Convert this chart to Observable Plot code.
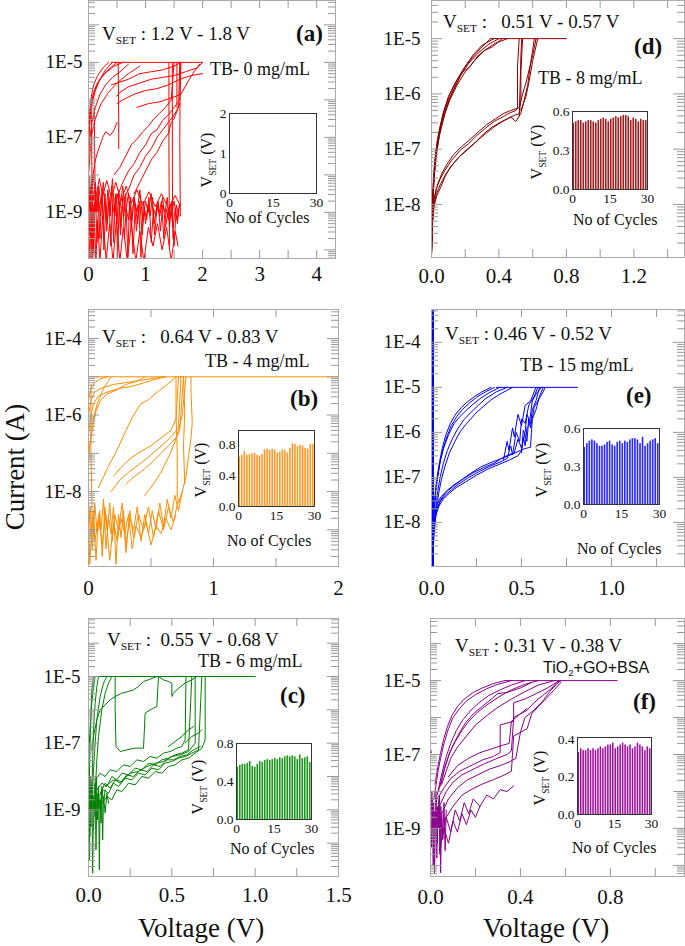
<!DOCTYPE html>
<html><head><meta charset="utf-8">
<script src="https://cdn.jsdelivr.net/npm/d3@7"></script>
<script src="https://cdn.jsdelivr.net/npm/@observablehq/plot@0.6"></script>
<style>
body{margin:0;background:#fff;}
#fig{position:relative;width:685px;height:946px;overflow:hidden;background:#fff;font-family:"Liberation Serif","Times New Roman",serif;color:#000;}
#fig svg{position:absolute;}
#fig svg text{font-family:"Liberation Serif","Times New Roman",serif !important;}
.t{position:absolute;white-space:nowrap;line-height:1;color:#111;}
.t sub{font-size:0.6em;vertical-align:baseline;position:relative;top:0.38em;}
</style></head><body><div id="fig"></div><script>
// ---------- DATA (V, log10 of current in A) ----------
const curvesA = [
 [0.40,-5, 2.0,-5],
 [0.60,-5, 0.45,-5.10, 0.32,-5.25, 0.22,-5.40, 0.14,-5.60, 0.08,-5.85, 0.04,-6.20, 0.01,-6.70, 0,-7.0],
 [0.50,-5, 0.38,-5.15, 0.28,-5.30, 0.18,-5.50, 0.10,-5.80, 0.05,-6.10, 0.02,-6.50, 0,-6.9],
 [0.42,-5, 0.30,-5.20, 0.20,-5.45, 0.12,-5.75, 0.07,-6.05, 0.03,-6.45, 0.01,-7.0, 0,-7.2],
 [0.70,-5.05, 0.55,-5.25, 0.42,-5.40, 0.30,-5.60, 0.20,-5.85, 0.12,-6.20, 0.06,-6.60, 0.02,-7.1, 0,-7.6],
 [0.90,-5.1, 0.70,-5.3, 0.50,-5.55, 0.35,-5.8, 0.22,-6.1, 0.12,-6.5, 0.06,-6.9, 0.03,-7.4, 0,-8.0],
 [0.35,-5.0, 0.25,-5.15, 0.16,-5.35, 0.09,-5.6, 0.05,-5.9, 0.02,-6.3, 0,-6.6],
 [0.50,-6.6, 0.45,-6.8, 0.38,-6.95, 0.30,-6.85, 0.25,-7.0, 0.18,-7.3, 0.12,-7.6, 0.08,-8.0, 0.05,-8.3],
 [2.0,-5.0, 1.9,-5.15, 1.7,-5.25, 1.5,-5.35, 1.3,-5.4, 1.1,-5.45, 0.9,-5.55, 0.7,-5.65, 0.55,-5.8, 0.5,-5.9],
 [2.0,-5.3, 1.8,-5.35, 1.6,-5.45, 1.4,-5.6, 1.2,-5.7, 1.0,-5.75, 0.8,-5.85, 0.6,-6.0, 0.5,-6.1],
 [1.62,-5.0, 1.5,-5.1, 1.3,-5.2, 1.1,-5.25, 0.9,-5.3, 0.7,-5.45, 0.5,-5.55, 0.4,-5.6],
 [1.95,-5.05, 1.85,-5.25, 1.75,-5.5, 1.62,-5.85, 1.45,-5.95, 1.25,-6.05, 1.05,-6.1, 0.85,-6.2],
 [0.50,-8.6, 0.60,-8.2, 0.70,-7.9, 0.80,-7.7, 0.90,-7.4, 1.00,-7.2, 1.10,-6.9, 1.20,-6.8, 1.30,-6.55, 1.40,-6.4, 1.50,-6.2, 1.60,-6.0, 1.62,-5.0],
 [0.60,-8.7, 0.70,-8.4, 0.80,-8.0, 0.90,-7.8, 1.00,-7.5, 1.10,-7.3, 1.20,-7.0, 1.30,-6.8, 1.40,-6.6, 1.50,-6.4, 1.58,-6.2, 1.60,-5.0],
 [0.45,-8.0, 0.55,-7.8, 0.65,-7.5, 0.75,-7.2, 0.85,-7.05, 0.95,-6.85, 1.05,-6.7, 1.15,-6.5, 1.25,-6.35, 1.35,-6.2, 1.45,-6.0, 1.50,-5.0],
 [0.80,-8.5, 0.90,-8.2, 1.00,-7.9, 1.10,-7.6, 1.20,-7.4, 1.30,-7.1, 1.40,-6.9, 1.45,-6.6, 1.50,-6.5, 1.55,-6.3, 1.60,-6.1],
 [0.52,-5.0, 0.53,-6.5, 0.53,-7.3],
 [1.41,-5.0, 1.41,-7.5, 1.42,-9.9],
 [1.47,-5.0, 1.47,-8.0, 1.48,-9.7],
 [1.61,-5.0, 1.60,-7.0, 1.61,-9.1],
 [1.55,-5.0, 1.55,-6.2],
 [0.0,-6.7, 0.0,-10.2],
 [0.05,-6.3, 0.06,-8.0, 0.07,-9.5],
 [0.10,-6.2, 0.11,-7.6, 0.12,-9.0],
 [0,-8.4, 0.02,-9.6, 0.04,-8.6, 0.06,-10.2, 0.08,-8.8, 0.10,-9.2, 0.12,-8.5, 0.15,-9.8, 0.18,-8.7, 0.21,-9.1, 0.24,-8.4, 0.27,-10.0, 0.30,-8.9, 0.33,-9.3, 0.36,-8.6, 0.39,-9.9, 0.42,-8.8, 0.45,-9.0, 0.48,-8.5, 0.51,-10.2, 0.54,-8.7, 0.57,-9.4, 0.60,-8.6, 0.63,-9.7, 0.66,-8.9, 0.70,-9.2, 0.74,-8.6, 0.78,-10.1, 0.82,-8.8, 0.86,-9.3, 0.90,-8.7, 0.94,-9.6, 0.98,-8.9, 1.02,-9.2, 1.06,-8.6, 1.10,-9.8, 1.14,-8.9, 1.18,-9.1, 1.22,-8.7, 1.26,-9.5, 1.30,-8.8, 1.34,-9.0, 1.38,-8.6, 1.42,-9.4, 1.46,-8.7, 1.50,-9.9, 1.54,-8.8, 1.58,-9.1],
 [0.01,-9.0, 0.03,-8.3, 0.05,-9.4, 0.07,-8.5, 0.09,-10.1, 0.11,-8.7, 0.14,-9.0, 0.17,-8.4, 0.20,-9.7, 0.23,-8.6, 0.26,-9.2, 0.29,-8.5, 0.32,-9.5, 0.35,-8.7, 0.38,-9.1, 0.41,-8.3, 0.44,-9.8, 0.47,-8.6, 0.50,-9.3, 0.53,-8.4, 0.56,-9.6, 0.59,-8.8, 0.62,-9.1, 0.65,-8.5, 0.69,-10.2, 0.72,-8.7, 0.76,-9.2, 0.80,-8.6, 0.84,-9.5, 0.88,-8.8, 0.92,-10.2, 0.96,-8.7, 1.00,-9.3, 1.04,-8.8, 1.08,-9.1, 1.12,-8.6, 1.16,-9.6, 1.20,-8.9, 1.24,-9.0, 1.28,-8.7, 1.32,-9.7, 1.36,-8.9, 1.40,-9.2, 1.44,-8.8, 1.48,-9.4, 1.52,-8.9, 1.56,-9.3, 1.59,-8.8],
 [0,-8.2, 0.03,-8.9, 0.06,-8.1, 0.09,-8.7, 0.12,-8.2, 0.15,-9.0, 0.18,-8.3, 0.22,-8.8, 0.26,-8.2, 0.30,-9.2, 0.34,-8.4, 0.38,-8.9, 0.42,-8.1, 0.46,-9.1, 0.50,-8.5, 0.55,-8.9, 0.60,-8.3, 0.65,-9.0, 0.70,-8.5, 0.75,-9.4, 0.80,-8.6, 0.85,-9.0, 0.90,-8.4, 0.95,-9.2, 1.00,-8.7, 1.05,-9.0, 1.10,-8.5, 1.15,-9.3, 1.20,-8.8, 1.25,-9.1, 1.30,-8.6, 1.35,-9.4, 1.40,-8.9, 1.45,-9.1, 1.50,-8.7, 1.55,-9.2, 1.60,-8.8],
 [0.005,-9.4, 0.025,-10.3, 0.045,-8.9, 0.07,-10.3, 0.10,-9.0, 0.13,-10.3, 0.16,-9.2, 0.20,-10.3, 0.25,-9.1, 0.31,-10.3, 0.37,-9.3, 0.43,-10.3, 0.49,-9.2, 0.55,-10.3, 0.61,-9.4, 0.68,-10.3, 0.75,-9.3, 0.83,-10.3, 0.90,-9.5, 0.97,-10.3, 1.05,-9.4, 1.13,-9.9, 1.21,-9.3, 1.29,-10.0, 1.37,-9.4, 1.45,-10.3, 1.52,-9.5, 1.57,-9.9],
 [0.01,-8.05, 0.04,-8.5, 0.08,-8.0, 0.13,-8.6, 0.19,-8.1, 0.25,-8.55, 0.32,-8.15, 0.40,-8.6, 0.48,-8.2, 0.57,-8.7, 0.66,-8.3, 0.75,-8.75, 0.85,-8.4, 0.95,-8.8, 1.06,-8.45, 1.17,-8.85, 1.28,-8.5, 1.40,-8.9, 1.52,-8.55, 1.6,-8.8]
];
const curvesB = [
 [0,-5, 2.0,-5],
 [0,-5.6, 0.02,-5.3, 0.05,-5.15, 0.10,-5.05, 0.15,-5.0],
 [0,-6.0, 0.02,-5.6, 0.05,-5.4, 0.10,-5.3, 0.20,-5.2, 0.30,-5.15, 0.40,-5.1, 0.50,-5.05, 0.60,-5.0],
 [0,-6.5, 0.02,-6.0, 0.04,-5.7, 0.08,-5.5, 0.15,-5.4, 0.25,-5.3, 0.35,-5.25, 0.45,-5.15, 0.55,-5.05, 0.62,-5.0],
 [0,-7.0, 0.03,-6.4, 0.06,-5.9, 0.10,-5.6, 0.15,-5.45, 0.22,-5.35, 0.30,-5.2, 0.40,-5.1, 0.45,-5.0],
 [0,-7.3, 0.01,-6.8, 0.03,-6.2, 0.07,-5.7, 0.12,-5.3, 0.16,-5.1, 0.18,-5.0],
 [0.08,-7.9, 0.15,-7.4, 0.23,-6.9, 0.30,-6.4, 0.36,-6.0, 0.42,-5.7, 0.48,-5.6, 0.55,-5.4, 0.63,-5.2, 0.70,-5.0],
 [0.18,-8.0, 0.25,-7.7, 0.32,-7.5, 0.40,-7.3, 0.48,-7.1, 0.55,-6.9, 0.62,-6.7, 0.68,-6.5, 0.72,-6.3, 0.74,-5.0],
 [0.30,-7.8, 0.37,-7.6, 0.45,-7.4, 0.52,-7.2, 0.58,-7.0, 0.64,-6.8, 0.70,-6.6, 0.73,-6.4, 0.76,-5.0],
 [0.20,-7.6, 0.28,-7.3, 0.35,-7.1, 0.42,-6.95, 0.50,-6.8, 0.58,-6.6, 0.66,-6.4, 0.70,-6.1, 0.72,-5.0],
 [0.45,-8.1, 0.52,-7.8, 0.58,-7.5, 0.64,-7.1, 0.68,-6.8, 0.72,-6.4, 0.75,-6.0, 0.78,-5.0],
 [0.82,-5.0, 0.82,-5.4, 0.83,-6.2, 0.82,-6.6, 0.80,-7.1, 0.78,-7.6, 0.75,-8.0, 0.72,-8.3],
 [0.70,-5.0, 0.70,-6.0, 0.71,-7.0, 0.71,-8.2],
 [0.76,-5.0, 0.77,-5.9, 0.76,-6.8, 0.77,-7.8],
 [0.02,-5.2, 0.02,-7.0, 0.03,-8.8],
 [0,-8.3, 0.02,-9.2, 0.04,-8.5, 0.06,-9.8, 0.08,-8.6, 0.10,-9.0, 0.12,-8.2, 0.14,-9.5, 0.16,-8.7, 0.18,-9.1, 0.20,-8.4, 0.22,-9.9, 0.24,-8.6, 0.26,-9.2, 0.28,-8.5, 0.30,-9.4, 0.33,-8.7, 0.36,-9.0, 0.39,-8.4, 0.42,-9.3, 0.45,-8.6, 0.48,-9.1, 0.51,-8.5, 0.54,-9.0, 0.57,-8.3, 0.60,-8.9, 0.63,-8.2, 0.66,-8.7, 0.69,-8.1, 0.72,-8.5, 0.75,-8.0],
 [0,-9.0, 0.015,-8.4, 0.03,-9.5, 0.05,-8.3, 0.07,-9.1, 0.09,-8.5, 0.11,-9.7, 0.13,-8.4, 0.15,-9.0, 0.17,-8.3, 0.19,-9.3, 0.21,-8.6, 0.24,-9.0, 0.27,-8.3, 0.30,-9.6, 0.33,-8.5, 0.36,-9.2, 0.40,-8.6, 0.44,-9.0, 0.48,-8.4, 0.52,-9.2, 0.56,-8.5, 0.60,-9.0, 0.64,-8.4, 0.68,-8.8, 0.72,-8.2],
 [0,-8.6, 0.01,-9.9, 0.03,-8.8, 0.05,-9.3, 0.08,-8.7, 0.11,-9.4, 0.14,-8.6, 0.17,-9.8, 0.20,-8.8, 0.23,-9.3, 0.26,-8.7, 0.29,-9.1, 0.32,-8.6, 0.35,-9.5, 0.38,-8.9, 0.42,-9.2, 0.46,-8.8, 0.50,-9.4, 0.54,-8.9, 0.58,-9.1, 0.62,-8.7, 0.66,-9.0, 0.70,-8.6]
];
const curvesC = [
 [0,-5, 1.0,-5],
 [0,-9.0, 0.005,-8.0, 0.01,-7.0, 0.015,-6.0, 0.02,-5.4, 0.03,-5.0],
 [0.01,-9.5, 0.02,-8.5, 0.025,-7.5, 0.03,-6.6, 0.04,-5.8, 0.05,-5.3, 0.06,-5.0],
 [0.02,-8.8, 0.03,-7.8, 0.04,-7.0, 0.05,-6.3, 0.07,-5.6, 0.09,-5.2, 0.11,-5.0],
 [0.04,-8.5, 0.05,-7.5, 0.06,-6.8, 0.08,-6.0, 0.10,-5.5, 0.12,-5.2, 0.14,-5.0],
 [0.0,-7.5, 0.01,-6.5, 0.02,-5.8, 0.03,-5.3, 0.04,-5.0],
 [0.02,-7.2, 0.03,-6.8, 0.05,-6.3, 0.07,-6.0, 0.10,-5.85, 0.13,-5.7, 0.16,-5.6, 0.20,-5.5, 0.24,-5.45, 0.27,-5.4, 0.30,-5.3, 0.33,-5.15, 0.37,-5.08, 0.41,-5.0],
 [0.16,-5.0, 0.16,-6.0, 0.165,-7.1, 0.19,-7.25, 0.23,-7.2, 0.28,-7.15, 0.33,-7.15, 0.34,-6.1, 0.37,-6.0, 0.41,-5.9, 0.42,-5.0],
 [0.42,-5.0, 0.45,-5.1, 0.48,-5.15, 0.50,-5.2, 0.50,-5.6, 0.51,-5.5, 0.54,-5.35, 0.58,-5.2, 0.62,-5.1, 0.65,-5.0],
 [0.05,-8.4, 0.08,-8.2, 0.11,-8.3, 0.14,-8.0, 0.17,-8.1, 0.20,-7.9, 0.24,-7.95, 0.28,-7.75, 0.32,-7.8, 0.36,-7.6, 0.40,-7.65, 0.44,-7.5, 0.48,-7.45, 0.52,-7.35, 0.56,-7.3, 0.60,-7.2, 0.62,-5.0],
 [0.06,-8.6, 0.09,-8.4, 0.12,-8.5, 0.15,-8.2, 0.18,-8.3, 0.22,-8.05, 0.26,-8.1, 0.30,-7.9, 0.34,-7.95, 0.38,-7.75, 0.42,-7.8, 0.46,-7.6, 0.50,-7.55, 0.54,-7.45, 0.58,-7.4, 0.62,-7.3, 0.66,-7.2, 0.68,-5.0],
 [0.04,-8.1, 0.07,-7.9, 0.10,-8.0, 0.13,-7.8, 0.17,-7.85, 0.21,-7.65, 0.25,-7.7, 0.29,-7.5, 0.33,-7.55, 0.37,-7.4, 0.41,-7.45, 0.45,-7.3, 0.49,-7.25, 0.53,-7.15, 0.56,-7.1, 0.58,-6.9, 0.585,-5.0],
 [0.08,-8.8, 0.11,-8.6, 0.14,-8.7, 0.17,-8.4, 0.20,-8.45, 0.24,-8.2, 0.28,-8.25, 0.32,-8.0, 0.36,-8.05, 0.40,-7.85, 0.44,-7.9, 0.48,-7.7, 0.52,-7.65, 0.56,-7.5, 0.60,-7.45, 0.64,-7.3, 0.68,-7.15, 0.70,-6.9, 0.70,-5.0],
 [0.10,-8.3, 0.15,-8.1, 0.20,-8.15, 0.25,-7.9, 0.30,-7.85, 0.35,-7.7, 0.40,-7.6, 0.45,-7.55, 0.50,-7.4, 0.55,-7.35, 0.60,-7.25, 0.64,-7.0, 0.64,-5.0],
 [0.07,-8.5, 0.10,-8.2, 0.13,-8.35, 0.16,-8.1, 0.19,-8.2, 0.23,-7.95, 0.27,-8.0, 0.31,-7.8, 0.35,-7.85, 0.39,-7.65, 0.43,-7.7, 0.47,-7.5, 0.51,-7.5, 0.55,-7.4, 0.59,-7.35, 0.63,-7.2, 0.67,-7.1],
 [0.48,-7.1, 0.52,-6.95, 0.56,-6.8, 0.60,-6.6, 0.63,-6.5],
 [0.58,-7.0, 0.62,-6.8, 0.66,-6.7, 0.68,-6.6],
 [0,-8.0, 0.005,-10.5, 0.01,-8.3, 0.015,-9.5, 0.02,-8.1, 0.025,-10.9, 0.03,-8.6, 0.035,-9.2, 0.04,-8.2, 0.045,-10.2, 0.05,-8.5, 0.055,-9.0, 0.06,-8.3, 0.065,-10.8, 0.07,-8.7, 0.075,-9.4, 0.08,-8.4, 0.085,-9.9, 0.09,-8.6, 0.10,-9.1, 0.11,-8.5, 0.12,-8.8],
 [0,-9.2, 0.004,-7.8, 0.008,-9.8, 0.012,-8.0, 0.018,-9.0, 0.024,-8.4, 0.03,-9.6, 0.036,-8.2, 0.042,-8.9, 0.048,-8.0, 0.054,-9.3, 0.06,-8.5, 0.07,-9.0, 0.08,-8.3, 0.09,-8.8, 0.10,-8.4]
];
const curvesD = [
 [0.35,-5, 0.80,-5],
 [0.37,-5.0, 0.30,-5.12, 0.25,-5.28, 0.20,-5.5, 0.15,-5.76, 0.11,-6.0, 0.073,-6.3, 0.05,-6.6, 0.034,-6.84, 0.02,-7.2, 0.014,-7.4, 0.007,-7.8, 0.003,-8.3, 0,-8.95],
 [0.40,-5.0, 0.34,-5.1, 0.28,-5.25, 0.22,-5.45, 0.17,-5.68, 0.13,-5.92, 0.09,-6.2, 0.06,-6.5, 0.04,-6.8, 0.025,-7.1, 0.015,-7.5, 0.008,-7.9, 0.003,-8.4, 0,-8.9],
 [0.45,-5.0, 0.38,-5.08, 0.32,-5.2, 0.26,-5.38, 0.20,-5.6, 0.15,-5.85, 0.11,-6.1, 0.08,-6.35, 0.05,-6.7, 0.03,-7.05, 0.018,-7.4, 0.01,-7.8, 0.004,-8.3, 0,-8.9],
 [0.35,-5.0, 0.29,-5.18, 0.24,-5.35, 0.19,-5.55, 0.14,-5.8, 0.10,-6.05, 0.07,-6.35, 0.045,-6.7, 0.028,-7.0, 0.017,-7.35, 0.009,-7.75, 0.003,-8.2, 0,-8.9],
 [0.42,-5.0, 0.36,-5.15, 0.31,-5.22, 0.27,-5.33, 0.23,-5.5, 0.18,-5.62, 0.14,-5.88, 0.10,-6.15, 0.07,-6.45, 0.045,-6.78, 0.027,-7.15, 0.015,-7.55, 0.006,-8.0, 0,-8.9],
 [0,-8.95, 0.005,-8.4, 0.014,-8.05, 0.03,-7.85, 0.053,-7.7, 0.08,-7.5, 0.11,-7.33, 0.16,-7.15, 0.21,-7.02, 0.26,-6.88, 0.31,-6.72, 0.36,-6.6, 0.41,-6.51, 0.45,-6.45, 0.49,-6.39, 0.52,-6.36, 0.53,-6.1, 0.53,-5.6, 0.54,-5.0],
 [0,-8.9, 0.004,-8.3, 0.012,-7.95, 0.028,-7.72, 0.05,-7.55, 0.08,-7.38, 0.12,-7.2, 0.17,-7.02, 0.22,-6.9, 0.27,-6.75, 0.32,-6.62, 0.37,-6.5, 0.42,-6.42, 0.46,-6.35, 0.50,-6.3, 0.51,-6.25, 0.51,-5.5, 0.52,-5.0],
 [0,-8.8, 0.006,-8.2, 0.016,-7.9, 0.035,-7.65, 0.06,-7.45, 0.09,-7.28, 0.13,-7.1, 0.18,-6.95, 0.23,-6.82, 0.28,-6.68, 0.33,-6.55, 0.38,-6.45, 0.43,-6.35, 0.47,-6.3, 0.52,-6.25, 0.54,-6.0, 0.56,-5.8, 0.58,-5.55, 0.60,-5.3, 0.62,-5.0],
 [0,-8.9, 0.005,-8.35, 0.015,-8.0, 0.03,-7.8, 0.055,-7.62, 0.085,-7.45, 0.12,-7.3, 0.17,-7.12, 0.22,-6.98, 0.27,-6.85, 0.32,-6.72, 0.37,-6.6, 0.42,-6.5, 0.47,-6.42, 0.50,-6.5, 0.53,-6.35, 0.55,-6.1, 0.57,-5.85, 0.585,-5.5, 0.60,-5.2, 0.61,-5.0],
 [0.53,-6.3, 0.56,-6.05, 0.58,-5.75, 0.60,-5.4, 0.63,-5.0],
 [0.52,-6.4, 0.525,-5.9, 0.53,-5.3, 0.535,-5.0]
];
const curvesE = [
 [0,-3.2, 0,-9.0],
 [0.36,-5, 0.81,-5],
 [0.38,-5.0, 0.32,-5.12, 0.27,-5.25, 0.235,-5.36, 0.19,-5.52, 0.155,-5.66, 0.124,-5.81, 0.095,-6.05, 0.069,-6.33, 0.05,-6.6, 0.04,-6.84, 0.03,-7.05, 0.022,-7.29, 0.013,-7.88, 0.006,-8.47, 0,-8.96],
 [0.35,-5.0, 0.30,-5.1, 0.25,-5.22, 0.21,-5.35, 0.17,-5.5, 0.14,-5.65, 0.11,-5.85, 0.085,-6.1, 0.062,-6.4, 0.046,-6.7, 0.034,-7.0, 0.024,-7.3, 0.015,-7.7, 0.008,-8.2, 0.002,-8.7, 0,-8.96],
 [0.42,-5.0, 0.36,-5.1, 0.30,-5.25, 0.26,-5.4, 0.22,-5.55, 0.18,-5.72, 0.145,-5.92, 0.115,-6.15, 0.088,-6.4, 0.065,-6.7, 0.048,-7.0, 0.035,-7.3, 0.024,-7.65, 0.014,-8.1, 0.006,-8.6, 0,-8.96],
 [0.45,-5.0, 0.38,-5.15, 0.33,-5.28, 0.28,-5.45, 0.24,-5.6, 0.20,-5.78, 0.16,-5.98, 0.13,-6.2, 0.10,-6.45, 0.075,-6.75, 0.055,-7.05, 0.04,-7.35, 0.028,-7.7, 0.017,-8.15, 0.008,-8.6, 0,-8.96],
 [0.33,-5.0, 0.28,-5.1, 0.24,-5.2, 0.20,-5.32, 0.165,-5.45, 0.13,-5.62, 0.105,-5.8, 0.08,-6.05, 0.06,-6.35, 0.045,-6.65, 0.033,-6.95, 0.023,-7.3, 0.014,-7.75, 0.006,-8.3, 0,-8.96],
 [0,-8.96, 0.006,-8.4, 0.015,-8.0, 0.031,-7.59, 0.055,-7.42, 0.087,-7.29, 0.12,-7.18, 0.161,-7.07, 0.21,-6.93, 0.272,-6.77, 0.33,-6.67, 0.383,-6.59, 0.44,-6.5, 0.494,-6.4, 0.52,-6.36, 0.55,-6.33, 0.555,-6.0, 0.56,-5.7, 0.58,-5.5, 0.60,-5.2, 0.62,-5.0],
 [0,-8.9, 0.008,-8.3, 0.02,-7.9, 0.04,-7.65, 0.065,-7.48, 0.10,-7.35, 0.14,-7.22, 0.19,-7.1, 0.25,-6.95, 0.31,-6.82, 0.37,-6.72, 0.43,-6.62, 0.48,-6.52, 0.50,-6.4, 0.51,-6.1, 0.52,-6.3, 0.53,-5.9, 0.55,-5.8, 0.56,-5.5, 0.58,-5.3, 0.60,-5.0],
 [0,-8.9, 0.005,-8.5, 0.012,-8.1, 0.025,-7.75, 0.045,-7.55, 0.075,-7.4, 0.11,-7.28, 0.15,-7.15, 0.20,-7.02, 0.26,-6.88, 0.32,-6.76, 0.38,-6.66, 0.42,-6.58, 0.44,-6.3, 0.45,-6.5, 0.47,-6.0, 0.49,-6.2, 0.50,-5.7, 0.52,-5.8, 0.54,-5.4, 0.57,-5.2, 0.59,-5.0],
 [0,-8.9, 0.01,-8.2, 0.025,-7.8, 0.05,-7.5, 0.08,-7.33, 0.12,-7.2, 0.17,-7.05, 0.23,-6.9, 0.29,-6.78, 0.35,-6.68, 0.40,-6.55, 0.46,-6.45, 0.48,-6.15, 0.50,-6.35, 0.52,-6.0, 0.53,-5.6, 0.545,-5.75, 0.56,-5.3, 0.58,-5.15, 0.61,-5.0],
 [0.40,-6.6, 0.42,-6.2, 0.43,-6.4, 0.45,-5.9, 0.46,-6.1, 0.48,-5.6, 0.50,-5.85, 0.52,-5.4, 0.55,-5.3, 0.57,-5.1, 0.58,-5.0],
 [0.50,-6.45, 0.51,-5.95, 0.53,-6.2, 0.54,-5.7, 0.55,-5.9, 0.57,-5.45, 0.59,-5.3, 0.62,-5.1, 0.63,-5.0]
];
const curvesF = [
 [0.33,-5, 0.83,-5],
 [0.36,-5.0, 0.30,-5.1, 0.25,-5.22, 0.20,-5.38, 0.16,-5.55, 0.13,-5.75, 0.10,-6.0, 0.08,-6.3, 0.06,-6.7, 0.045,-7.1, 0.035,-7.4, 0.025,-7.8, 0.015,-8.2],
 [0.42,-5.0, 0.36,-5.12, 0.31,-5.25, 0.26,-5.4, 0.22,-5.58, 0.18,-5.8, 0.145,-6.05, 0.115,-6.35, 0.09,-6.7, 0.07,-7.05, 0.055,-7.4, 0.04,-7.8, 0.03,-8.1],
 [0.48,-5.0, 0.42,-5.1, 0.36,-5.25, 0.31,-5.42, 0.26,-5.62, 0.21,-5.85, 0.17,-6.1, 0.14,-6.35, 0.11,-6.65, 0.085,-6.95, 0.065,-7.3, 0.05,-7.65, 0.035,-8.0],
 [0.55,-5.0, 0.48,-5.12, 0.42,-5.3, 0.36,-5.5, 0.30,-5.72, 0.25,-5.95, 0.20,-6.2, 0.16,-6.5, 0.12,-6.8, 0.09,-7.1, 0.07,-7.45, 0.05,-7.8],
 [0.33,-5.0, 0.28,-5.08, 0.23,-5.2, 0.19,-5.32, 0.15,-5.5, 0.12,-5.7, 0.095,-5.95, 0.075,-6.25, 0.058,-6.6, 0.045,-6.95, 0.032,-7.35, 0.02,-7.8],
 [0.45,-5.05, 0.40,-5.2, 0.34,-5.32, 0.30,-5.35, 0.27,-5.5, 0.23,-5.7, 0.19,-5.9, 0.155,-6.15, 0.125,-6.45, 0.10,-6.75, 0.08,-7.05, 0.06,-7.45, 0.045,-7.85],
 [0.03,-8.2, 0.06,-7.9, 0.09,-7.65, 0.13,-7.45, 0.18,-7.3, 0.23,-7.15, 0.28,-7.05, 0.31,-6.95, 0.31,-6.2, 0.34,-6.15, 0.37,-6.1, 0.37,-5.6, 0.42,-5.5, 0.47,-5.35, 0.52,-5.2, 0.56,-5.05, 0.58,-5.0],
 [0.04,-8.4, 0.07,-8.0, 0.10,-7.75, 0.14,-7.55, 0.19,-7.4, 0.24,-7.25, 0.29,-7.12, 0.34,-7.0, 0.36,-6.9, 0.37,-6.0, 0.40,-5.9, 0.43,-5.8, 0.46,-5.6, 0.50,-5.4, 0.54,-5.2, 0.57,-5.0],
 [0.05,-8.6, 0.08,-8.2, 0.12,-7.9, 0.16,-7.7, 0.21,-7.55, 0.26,-7.4, 0.31,-7.3, 0.35,-7.2, 0.38,-7.1, 0.40,-6.4, 0.43,-6.3, 0.45,-5.9, 0.48,-5.7, 0.52,-5.45, 0.55,-5.25, 0.58,-5.05],
 [0.06,-8.8, 0.10,-8.4, 0.14,-8.1, 0.18,-7.95, 0.23,-7.8, 0.28,-7.68, 0.33,-7.55, 0.36,-7.45, 0.37,-6.5, 0.40,-6.4, 0.42,-6.0, 0.46,-5.8, 0.50,-5.55, 0.53,-5.3, 0.56,-5.1, 0.58,-5.0],
 [0.08,-7.6, 0.12,-7.3, 0.17,-7.1, 0.22,-6.95, 0.27,-6.85, 0.32,-6.75, 0.35,-6.7, 0.36,-6.1, 0.39,-5.95, 0.43,-5.75],
 [0.05,-9.3, 0.07,-8.7, 0.09,-9.1, 0.11,-8.5, 0.13,-8.8, 0.15,-8.3, 0.17,-8.6, 0.19,-8.2, 0.22,-8.4, 0.25,-8.1, 0.28,-8.2, 0.31,-7.95, 0.34,-8.0, 0.37,-7.85],
 [0.04,-9.6, 0.06,-9.0, 0.08,-9.4, 0.10,-8.8, 0.12,-9.1, 0.14,-8.6, 0.16,-8.9, 0.18,-8.5, 0.20,-8.7, 0.22,-8.4],
 [0,-7.8, 0.004,-9.5, 0.008,-8.2, 0.012,-10.0, 0.016,-8.5, 0.02,-9.2, 0.024,-8.0, 0.028,-9.8, 0.032,-8.4, 0.036,-9.0, 0.04,-8.1, 0.045,-10.2, 0.05,-8.6, 0.055,-9.3, 0.06,-8.3, 0.065,-9.6, 0.07,-8.5],
 [0.002,-8.6, 0.006,-8.0, 0.01,-9.1, 0.014,-8.3, 0.018,-10.2, 0.022,-8.7, 0.026,-8.1, 0.03,-9.4, 0.034,-8.6, 0.038,-8.2, 0.042,-9.7, 0.046,-8.4, 0.05,-8.9],
 [0,-6.85, 0.004,-6.95]
];
// inset bars: V_SET per cycle (cycles 1..30)
const barsB = [0.64,0.66,0.71,0.66,0.67,0.68,0.69,0.66,0.65,0.67,0.73,0.74,0.72,0.74,0.73,0.69,0.70,0.73,0.72,0.69,0.75,0.81,0.80,0.77,0.79,0.78,0.75,0.74,0.80,0.80];
const barsC = [0.55,0.57,0.58,0.58,0.59,0.61,0.56,0.55,0.58,0.61,0.60,0.62,0.63,0.62,0.63,0.64,0.63,0.65,0.64,0.66,0.67,0.66,0.67,0.66,0.63,0.68,0.64,0.65,0.66,0.60];
const barsD = [0.51,0.52,0.53,0.53,0.51,0.52,0.53,0.53,0.52,0.51,0.53,0.54,0.55,0.54,0.52,0.54,0.55,0.56,0.55,0.56,0.57,0.57,0.56,0.53,0.55,0.54,0.52,0.54,0.53,0.53];
const barsE = [0.45,0.48,0.50,0.51,0.50,0.48,0.46,0.46,0.47,0.49,0.50,0.47,0.46,0.49,0.50,0.48,0.50,0.49,0.51,0.52,0.52,0.51,0.48,0.53,0.46,0.48,0.50,0.51,0.52,0.48];
const barsF = [0.33,0.35,0.34,0.34,0.35,0.34,0.35,0.34,0.35,0.36,0.35,0.36,0.37,0.37,0.38,0.35,0.36,0.37,0.38,0.37,0.36,0.37,0.35,0.36,0.38,0.37,0.36,0.34,0.36,0.35];
// tick values / labels
const xTicksA = [0,0.5,1,1.5,2,2.5,3,3.5,4], xLabA = [0,1,2,3,4];
const xTicksB = [0,0.5,1,1.5,2], xLabB = [0,1,2];
const xTicksC = [0,0.25,0.5,0.75,1,1.25,1.5], xLabC = [0,0.5,1,1.5];
const xTicksD = [0,0.2,0.4,0.6,0.8,1,1.2,1.4], xLabD = [0,0.4,0.8,1.2];
const xTicksE = [0,0.25,0.5,0.75,1,1.25], xLabE = [0,0.5,1];
const xTicksF = [0,0.2,0.4,0.6,0.8,1], xLabF = [0,0.4,0.8];
const yLabA = [1e-5,1e-7,1e-9], yLabB = [1e-4,1e-6,1e-8], yLabC = [1e-5,1e-7,1e-9];
const yLabD = [1e-5,1e-6,1e-7,1e-8], yLabE = [1e-4,1e-5,1e-6,1e-7,1e-8], yLabF = [1e-5,1e-7,1e-9];

// ---------- RENDER ----------
const fig = document.getElementById("fig");
const SERIF = "Liberation Serif, Times New Roman, serif";
function rowsOf(curves){const r=[];curves.forEach((c,ci)=>{for(let k=0;k<c.length;k+=2)r.push({V:c[k],I:Math.pow(10,c[k+1]),c:ci});});return r;}

function panel(p){
  const fw=p.right-p.left, fh=p.bottom-p.top;
  const mL=70,mR=1,mT=1,mB=40;
  const yDom=[Math.pow(10,p.ylo),Math.pow(10,p.yhi)];
  const all=d3.scaleLog().domain(yDom).ticks();
  const isDec=v=>Math.abs(Math.log10(v)-Math.round(Math.log10(v)))<1e-9;
  const major=all.filter(isDec), minor=all.filter(v=>!isDec(v));
  const rows=rowsOf(p.curves);
  const marks=[
    Plot.line(rows.filter(d=>d.c!==p.thick),{x:"V",y:"I",z:"c",stroke:p.color,strokeWidth:1,clip:true}),
  ];
  if(p.thick!==undefined) marks.push(Plot.line(rows.filter(d=>d.c===p.thick),{x:"V",y:"I",stroke:p.color,strokeWidth:5,clip:true}));
  marks.push(
    Plot.ruleX(p.xTicks,{stroke:"#999",insetTop:fh-8}),
    Plot.ruleX(p.xTicks,{stroke:"#999",insetBottom:fh-8}),
    Plot.ruleY(minor,{stroke:"#999",insetRight:fw-7}),
    Plot.ruleY(major,{stroke:"#999",insetRight:fw-11}),
    Plot.ruleY(minor,{stroke:"#999",insetLeft:fw-7}),
    Plot.ruleY(major,{stroke:"#999",insetLeft:fw-11}),
    Plot.frame({stroke:"#aaa"}),
    Plot.axisX(p.xLab,{label:null,tickSize:0,tickPadding:p.xPad,fontSize:21,fontFamily:SERIF,tickFormat:p.xFmt,fill:"#111"}),
    Plot.axisY(p.yLab,{label:null,tickSize:0,tickPadding:p.yPad,fontSize:19,fontFamily:SERIF,fill:"#111",tickFormat:d=>"1E"+Math.round(Math.log10(d))})
  );
  const svg=Plot.plot({width:fw+mL+mR,height:fh+mT+mB,marginLeft:mL,marginRight:mR,marginTop:mT,marginBottom:mB,
    style:{background:"transparent",overflow:"visible",fontFamily:SERIF},
    x:{domain:p.xDomain,label:null},y:{type:"log",domain:yDom,label:null},marks});
  svg.style.left=(p.left-mL)+"px"; svg.style.top=(p.top-mT)+"px";
  fig.appendChild(svg);
}

function inset(q){
  const w=q.right-q.left,h=q.bottom-q.top;
  const mL=26,mR=1,mT=1,mB=22;
  const data=q.bars.map((v,i)=>({i:i+1,v}));
  const svg=Plot.plot({width:w+mL+mR,height:h+mT+mB,marginLeft:mL,marginRight:mR,marginTop:mT,marginBottom:mB,
    style:{background:"transparent",overflow:"visible",fontFamily:SERIF},
    x:{domain:[0,30],label:null},y:{domain:q.yDomain,label:null},
    marks:[
      Plot.rectY(data,{x1:d=>d.i-1,x2:d=>d.i,y:"v",fill:q.color,insetLeft:0.45,insetRight:0.45}),
      Plot.frame({stroke:"#333"}),
      Plot.axisX([0,15,30],{label:null,tickSize:0,tickPadding:4,fontSize:13.5,fontFamily:SERIF,fill:"#111"}),
      Plot.axisY(q.yTicks,{label:null,tickSize:0,tickPadding:3,fontSize:13.5,fontFamily:SERIF,fill:"#111",tickFormat:q.yFmt})
    ]});
  svg.style.left=(q.left-mL)+"px"; svg.style.top=(q.top-mT)+"px";
  fig.appendChild(svg);
}

function txt(html,x,base,fs,extra){
  const d=document.createElement("div");d.className="t";d.innerHTML=html;
  d.style.fontSize=fs+"px";d.style.left=x+"px";d.style.top=(base-0.837*fs)+"px";
  if(extra)Object.assign(d.style,extra);fig.appendChild(d);
}
function rot(html,cx,cy,fs){
  const d=document.createElement("div");d.className="t";d.innerHTML=html;
  d.style.fontSize=fs+"px";d.style.left=cx+"px";d.style.top=cy+"px";
  d.style.transform="translate(-50%,-50%) rotate(-90deg)";fig.appendChild(d);
}

const f1=d3.format(".1f");
panel({left:88,top:0,right:335,bottom:258,xDomain:[0,4.33],ylo:-10.23,yhi:-3.35,color:"#ff0000",curves:curvesA,
  xTicks:xTicksA,xLab:xLabA,xFmt:d3.format("d"),yLab:yLabA,xPad:8,yPad:6});
panel({left:88,top:309,right:338,bottom:566,xDomain:[0,2],ylo:-9.96,yhi:-3.24,color:"#ff8c00",curves:curvesB,
  xTicks:xTicksB,xLab:xLabB,xFmt:d3.format("d"),yLab:yLabB,xPad:14,yPad:7});
panel({left:88,top:618,right:338,bottom:876,xDomain:[0,1.5],ylo:-11.0,yhi:-3.26,color:"#008000",curves:curvesC,
  xTicks:xTicksC,xLab:xLabC,xFmt:f1,yLab:yLabC,xPad:11,yPad:8});
panel({left:431,top:0,right:684,bottom:257,xDomain:[0,1.5],ylo:-8.96,yhi:-4.31,color:"#8b0000",curves:curvesD,
  xTicks:xTicksD,xLab:xLabD,xFmt:f1,yLab:yLabD,xPad:11,yPad:11});
panel({left:431,top:309,right:684,bottom:566,xDomain:[0,1.405],ylo:-8.98,yhi:-3.27,color:"#0000ff",curves:curvesE,thick:0,
  xTicks:xTicksE,xLab:xLabE,xFmt:f1,yLab:yLabE,xPad:14,yPad:11});
panel({left:430,top:618,right:684,bottom:876,xDomain:[0,1.13],ylo:-10.3,yhi:-3.32,color:"#8b008b",curves:curvesF,
  xTicks:xTicksF,xLab:xLabF,xFmt:f1,yLab:yLabF,xPad:13,yPad:10});

inset({left:229,top:113,right:316,bottom:193,yDomain:[0,2],yTicks:[0,1,2],yFmt:d3.format("d"),bars:[],color:"#f00"});
inset({left:238,top:430,right:314,bottom:506,yDomain:[0,0.98],yTicks:[0,0.4,0.8],yFmt:f1,bars:barsB,color:"#ff9a2a"});
inset({left:236,top:743,right:311,bottom:819,yDomain:[0,0.8],yTicks:[0,0.4,0.8],yFmt:f1,bars:barsC,color:"#1a9a1a"});
inset({left:572,top:111,right:647,bottom:189,yDomain:[0,0.6],yTicks:[0,0.3,0.6],yFmt:f1,bars:barsD,color:"#a51c1c"});
inset({left:583,top:428,right:659,bottom:504,yDomain:[0,0.6],yTicks:[0,0.3,0.6],yFmt:f1,bars:barsE,color:"#2a2aff"});
inset({left:577,top:737,right:651,bottom:814,yDomain:[0,0.41],yTicks:[0,0.2,0.4],yFmt:f1,bars:barsF,color:"#a010a0"});

const VS="V<sub>SET</sub>";
txt(VS+" : 1.2 V - 1.8 V",102,40,19);
txt("(a)",296,41,23,{fontWeight:"bold"});
txt("TB- 0 mg/mL",210,75,18);
txt(VS+" :&nbsp;&nbsp; 0.64 V - 0.83 V",102,343,19);
txt("TB - 4 mg/mL",205,367,18);
txt("(b)",290,406,23,{fontWeight:"bold"});
txt(VS+" :&nbsp; 0.55 V - 0.68 V",107,646,19);
txt("TB - 6 mg/mL",198,667,18);
txt("(c)",280,703,23,{fontWeight:"bold"});
txt(VS+" :&nbsp;&nbsp; 0.51 V - 0.57 V",443,28,19);
txt("(d)",634,54,23,{fontWeight:"bold"});
txt("TB - 8 mg/mL",538,84,18);
txt(VS+" : 0.46 V - 0.52 V",445,340,19);
txt("TB - 15 mg/mL",520,371,18);
txt("(e)",626,403,23,{fontWeight:"bold"});
txt(VS+" : 0.31 V - 0.38 V",455,652,19);
txt("TiO<sub>2</sub>+GO+BSA",543,673,16,{fontFamily:"Liberation Sans, Arial, sans-serif"});
txt("(f)",633,709,23,{fontWeight:"bold"});

const IV=VS+" (V)";
rot(IV,207,160,16); rot(IV,201,470,16); rot(IV,198,787,16);
rot(IV,537,152,16); rot(IV,542,470,16); rot(IV,540,778,16);
txt("No of Cycles",225,223,16); txt("No of Cycles",227,546,16); txt("No of Cycles",230,854,16);
txt("No of Cycles",573,225,16); txt("No of Cycles",577,554,16); txt("No of Cycles",572,853,16);

rot("Current (A)",15,467,27);
txt("Voltage (V)",138,938,27);
txt("Voltage (V)",483,938,27);
</script></body></html>
